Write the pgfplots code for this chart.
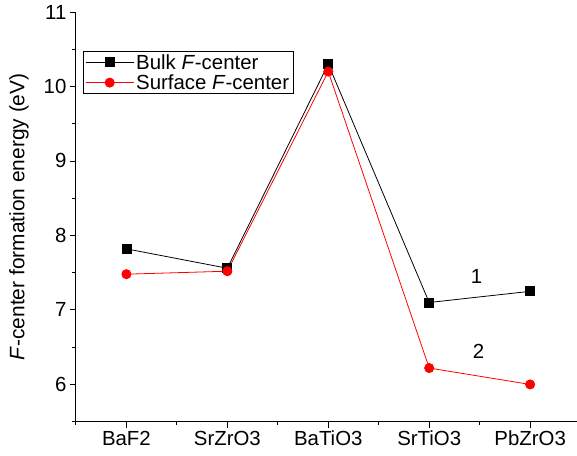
\documentclass[border=0pt]{standalone}
\usepackage{pgfplots}
\pgfplotsset{compat=1.18}
\usepackage{fontspec}
\setmainfont{Liberation Sans}

\begin{document}
\begin{tikzpicture}
\begin{axis}[
    scale only axis,
    width=501bp, height=410bp,
    xmin=0.5, xmax=5.46,
    ymin=5.5, ymax=11,
    axis x line*=bottom,
    axis y line*=left,
    axis line style={line width=0.9pt, -},
    xtick={1,2,3,4,5},
    xticklabels={BaF2,SrZrO3,BaTiO3,SrTiO3,PbZrO3},
    minor xtick={0.5,1.5,2.5,3.5,4.5},
    ytick={6,7,8,9,10,11},
    minor ytick={5.5,6.5,7.5,8.5,9.5,10.5},
    tick align=outside,
    major tick length=6bp,
    minor tick length=3.5bp,
    tick style={line width=0.9pt, black},
    ticklabel style={font=\fontsize{20.5}{24}\selectfont},
    /pgf/number format/assume math mode=true,
    ylabel={\textit{F}-center formation energy (eV)},
    ylabel style={font=\fontsize{21}{24}\selectfont,
        at={(axis description cs:-0.114,0.5)}, anchor=center},
    legend style={
        at={(7/501, 1-39/410)}, anchor=north west,
        draw=black, line width=0.6pt,
        font=\fontsize{20.5}{24}\selectfont,
        inner xsep=2pt, inner ysep=1pt,
        cells={anchor=west, inner ysep=4pt, inner xsep=3pt},
    },
    legend cell align=left,
    legend image code/.code={
        \draw[mark repeat=2,mark phase=2] plot coordinates {(0cm,0cm) (0.85cm,0cm) (1.7cm,0cm)};
    },
]
\addplot[black, line width=0.8pt, mark=square*, mark size=4.5bp, mark options={solid}]
    coordinates {(1,7.82) (2,7.56) (3,10.30) (4,7.10) (5,7.25)};
\addlegendentry{Bulk \textit{F}-center}
\addplot[red, line width=0.8pt, mark=*, mark size=4.6bp, mark options={solid}]
    coordinates {(1,7.48) (2,7.52) (3,10.20) (4,6.22) (5,6.00)};
\addlegendentry{Surface \textit{F}-center}
\node[font=\fontsize{20.5}{24}\selectfont] at (axis cs:4.47,7.45) {1};
\node[font=\fontsize{20.5}{24}\selectfont] at (axis cs:4.49,6.45) {2};
\end{axis}
\path (current axis.south west) ++(-76bp,-34bp) rectangle ++(577bp,456bp);
\end{tikzpicture}
\end{document}
